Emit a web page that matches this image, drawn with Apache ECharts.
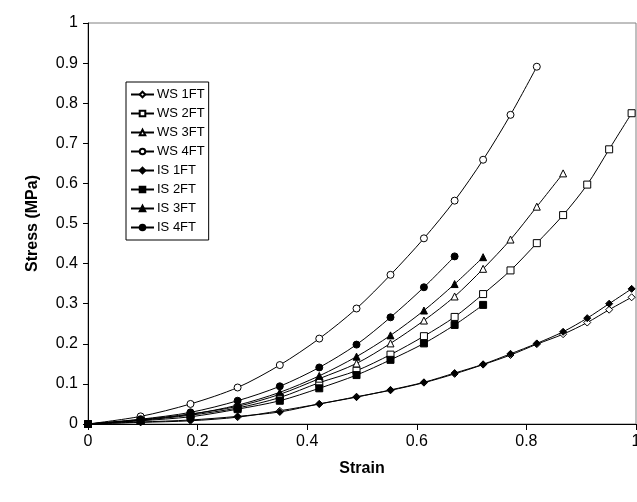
<!DOCTYPE html>
<html>
<head>
<meta charset="utf-8">
<script src="https://cdn.jsdelivr.net/npm/echarts@6/dist/echarts.min.js"></script>
<style>html,body{margin:0;padding:0;background:#fff}#c{width:637px;height:502px}</style>
</head>
<body>
<div id="c"></div>
<script>
const strain = [0, 0.096, 0.187, 0.273, 0.350, 0.422, 0.490, 0.552, 0.613, 0.669, 0.721, 0.771, 0.819, 0.867, 0.911, 0.951, 0.992];
const seriesNames = ['WS 1FT', 'WS 2FT', 'WS 3FT', 'WS 4FT', 'IS 1FT', 'IS 2FT', 'IS 3FT', 'IS 4FT'];
const ws1 = [0, 0.004, 0.008, 0.017, 0.033, 0.050, 0.068, 0.084, 0.103, 0.125, 0.148, 0.172, 0.199, 0.224, 0.253, 0.285, 0.316];
const ws2 = [0, 0.009, 0.022, 0.040, 0.066, 0.103, 0.133, 0.173, 0.219, 0.267, 0.324, 0.383, 0.451, 0.521, 0.597, 0.685, 0.775];
const ws3 = [0, 0.011, 0.025, 0.044, 0.074, 0.113, 0.151, 0.201, 0.258, 0.318, 0.387, 0.460, 0.542, 0.625];
const ws4 = [0, 0.019, 0.050, 0.091, 0.147, 0.213, 0.288, 0.372, 0.463, 0.557, 0.659, 0.771, 0.891];
const is1 = [0, 0.005, 0.010, 0.019, 0.030, 0.050, 0.067, 0.085, 0.104, 0.127, 0.149, 0.175, 0.201, 0.230, 0.264, 0.300, 0.337];
const is2 = [0, 0.008, 0.018, 0.037, 0.058, 0.089, 0.122, 0.160, 0.201, 0.247, 0.297];
const is3 = [0, 0.010, 0.024, 0.047, 0.079, 0.120, 0.168, 0.221, 0.283, 0.349, 0.416];
const is4 = [0, 0.012, 0.029, 0.058, 0.094, 0.141, 0.198, 0.266, 0.341, 0.418];
const yTicks = ['0','0.1','0.2','0.3','0.4','0.5','0.6','0.7','0.8','0.9','1'];

const values = [ws1, ws2, ws3, ws4, is1, is2, is3, is4];
const symbols = ['diamond', 'rect', 'triangle', 'circle', 'diamond', 'rect', 'triangle', 'circle'];
const sizes = [7, 7, 7, 7, 7, 7, 7, 7];
const filled = [false, false, false, false, true, true, true, true];

const series = seriesNames.map((n, i) => ({
  name: n,
  type: 'line',
  smooth: 0.3,
  symbol: symbols[i],
  symbolSize: sizes[i],
  showAllSymbol: true,
  lineStyle: { color: '#000', width: 1 },
  itemStyle: { color: filled[i] ? '#000' : '#fff', borderColor: '#000', borderWidth: 1 },
  data: values[i].map((v, k) => [strain[k], v]),
  z: 3
}));

const chart = echarts.init(document.getElementById('c'), null, { renderer: 'canvas' });
chart.setOption({
  animation: false,
  backgroundColor: '#fff',
  textStyle: { fontFamily: 'Liberation Sans, Arial, sans-serif' },
  grid: { left: 88, right: 1, top: 23, bottom: 78, show: true, borderColor: '#808080', borderWidth: 1,
    outerBoundsMode: 'none', containLabel: false },
  legend: {
    orient: 'vertical',
    left: 126,
    top: 82,
    data: seriesNames,
    itemWidth: 23,
    itemHeight: 7,
    itemGap: 6,
    padding: [6, 4, 6, 4],
    borderColor: '#000',
    borderWidth: 1,
    backgroundColor: '#fff',
    textStyle: { fontSize: 13, color: '#000', padding: [0, 0, 0, -2] }
  },
  xAxis: {
    type: 'value', min: 0, max: 1, interval: 0.2,
    name: 'Strain', nameLocation: 'middle', nameGap: 37,
    nameTextStyle: { fontSize: 16, fontWeight: 'bold', color: '#000' },
    axisLine: { show: true, lineStyle: { color: '#000', width: 1 } },
    axisTick: { show: true, inside: false, length: 6, lineStyle: { color: '#000' } },
    axisLabel: { fontSize: 16, color: '#000', margin: 10, showMaxLabel: true, hideOverlap: false,
      formatter: v => String(Math.round(v * 10) / 10) },
    splitLine: { show: false }
  },
  yAxis: {
    type: 'value', min: 0, max: 1, interval: 0.1,
    name: 'Stress (MPa)', nameLocation: 'middle', nameGap: 47,
    nameTextStyle: { fontSize: 16, fontWeight: 'bold', color: '#000' },
    axisLine: { show: true, lineStyle: { color: '#000', width: 1 } },
    axisTick: { show: true, inside: false, length: 5, lineStyle: { color: '#000' } },
    axisLabel: { fontSize: 16, color: '#000', margin: 10,
      formatter: v => yTicks[Math.round(v * 10)] },
    splitLine: { show: false }
  },
  series: series
});
</script>
</body>
</html>
